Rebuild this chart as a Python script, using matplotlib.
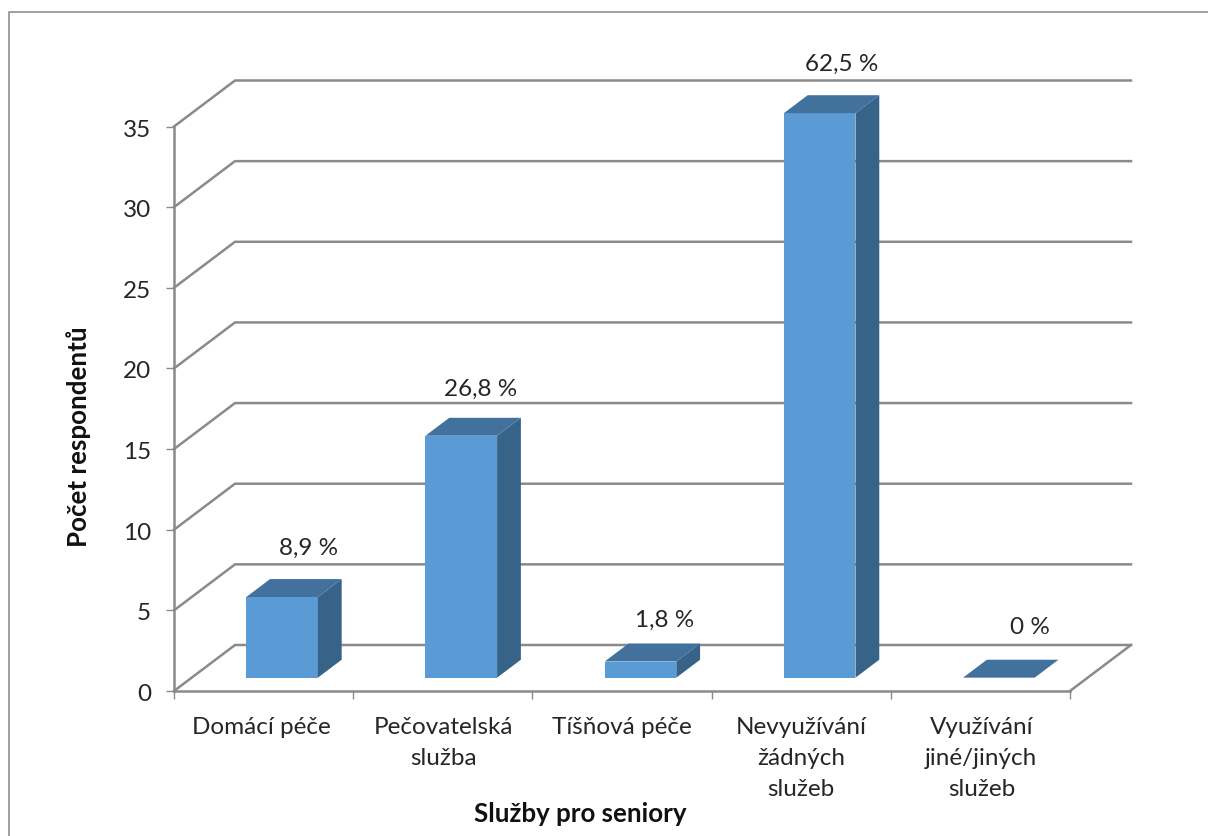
import matplotlib
matplotlib.use("Agg")
import matplotlib.pyplot as plt
from matplotlib.lines import Line2D
from matplotlib.patches import Polygon
from matplotlib.transforms import ScaledTranslation

categories = ["Domácí péče", "Pečovatelská\nslužba", "Tíšňová péče",
              "Nevyužívání\nžádných\nslužeb", "Využívání\njiné/jiných\nslužeb"]
values = [5, 15, 1, 35, 0]
percent_labels = ["8,9 %", "26,8 %", "1,8 %", "62,5 %", "0 %"]
y_ticks = [0, 5, 10, 15, 20, 25, 30, 35]
y_title = "Počet respondentů"
x_title = "Služby pro seniory"

# pixel offsets of the data labels from the top of each bar's back edge
label_dx = [15, 8, 13, 11, 20]
label_dy = [31, 28, 23, 31, 32]
# pixel nudges of the category labels
cat_dx = [-2, 1, 0, 0, 1]

W, H = 1208, 836
plt.rcParams['font.family'] = ['Lato', 'DejaVu Sans']
TEXT = "#262626"
LINE = "#8a8a8a"
FRONT = "#5b9bd5"
TOP = "#41719c"
SIDE = "#386388"
FS = 17.5
FS_B = 18.6

fig = plt.figure(figsize=(W / 100, H / 100), dpi=100, facecolor="white")
L, R, T, B = 174, 1070, 126.5, 691
ax = fig.add_axes([L / W, 1 - B / H, (R - L) / W, (B - T) / H])
ax.set_xlim(0, 5)
ax.set_ylim(0, 35)
ax.patch.set_visible(False)

px_x = (R - L) / 5
px_y = (B - T) / 35
DX = 61 / px_x   # chart depth, in data units
DY = 46 / px_y

# wall and floor lines
for v in y_ticks:
    ax.plot([0, DX, 5 + DX], [v, v + DY, v + DY], color=LINE, lw=1.8,
            clip_on=False, zorder=1, solid_joinstyle="miter")
ax.plot([5, 5 + DX], [0, DY], color=LINE, lw=1.8, clip_on=False, zorder=1)

# bars
bar_w = 71.6 / px_x
shift = 0.8 / px_x
f0, f1 = 0.29, 0.29 + 0.39
for i, v in enumerate(values):
    c = i + 0.5
    x0 = c - bar_w / 2 + f0 * DX + shift
    x1 = c + bar_w / 2 + f0 * DX + shift
    y0 = f0 * DY
    y1 = y0 + v
    sx = (f1 - f0) * DX
    sy = (f1 - f0) * DY
    if v > 0:
        ax.add_patch(Polygon([(x0, y0), (x1, y0), (x1, y1), (x0, y1)], fc=FRONT, ec="none",
                             clip_on=False, zorder=3))
        ax.add_patch(Polygon([(x1, y0), (x1 + sx, y0 + sy), (x1 + sx, y1 + sy), (x1, y1)], fc=SIDE, ec="none",
                             clip_on=False, zorder=3))
    ax.add_patch(Polygon([(x0, y1), (x1, y1), (x1 + sx, y1 + sy), (x0 + sx, y1 + sy)], fc=TOP, ec="none",
                         clip_on=False, zorder=3))
    ax.annotate(percent_labels[i], xy=(c + f0 * DX + sx / 2, y1 + sy),
                xytext=(label_dx[i] * 0.72, label_dy[i] * 0.72), textcoords="offset points",
                ha="center", va="center", fontsize=FS, color=TEXT, annotation_clip=False, zorder=5)

# axes
for s in ("top", "right"):
    ax.spines[s].set_visible(False)
for s in ("left", "bottom"):
    ax.spines[s].set_color(LINE)
    ax.spines[s].set_linewidth(1.8)
    ax.spines[s].set_zorder(2)
ax.set_yticks(y_ticks)
ax.set_xticks(range(6))
ax.set_xticklabels([])
ax.set_xticks([i + 0.5 for i in range(5)], categories, minor=True)
ax.tick_params(axis="x", which="major", length=6, width=1, color=LINE)
ax.tick_params(axis="x", which="minor", length=0, pad=18.5, labelsize=FS, labelcolor=TEXT)
ax.tick_params(axis="y", length=6, width=1, color=LINE, pad=10.5, labelsize=FS, labelcolor=TEXT)
for t, d in zip(ax.get_xticklabels(minor=True), cat_dx):
    t.set_linespacing(1.6)
    t.set_verticalalignment("top")
    t.set_transform(t.get_transform() + ScaledTranslation(d / 100, 0, fig.dpi_scale_trans))
for t in ax.get_yticklabels():
    t.set_transform(t.get_transform() + ScaledTranslation(0, -1.5 / 100, fig.dpi_scale_trans))

fig.text(78.5 / W, 1 - 437 / H, y_title, rotation=90, ha="center", va="center",
         fontsize=FS_B, fontweight="bold", color="#111111")
fig.text(580 / W, 1 - 814 / H, x_title, ha="center", va="center",
         fontsize=FS_B, fontweight="bold", color="#111111")

# outer frame
fig.add_artist(Line2D([8.5 / W, 8.5 / W, 1], [0, 1 - 11.5 / H, 1 - 11.5 / H], color="#8f8f8f", lw=1.2))

fig.savefig("out.png", dpi=100, facecolor="white")
